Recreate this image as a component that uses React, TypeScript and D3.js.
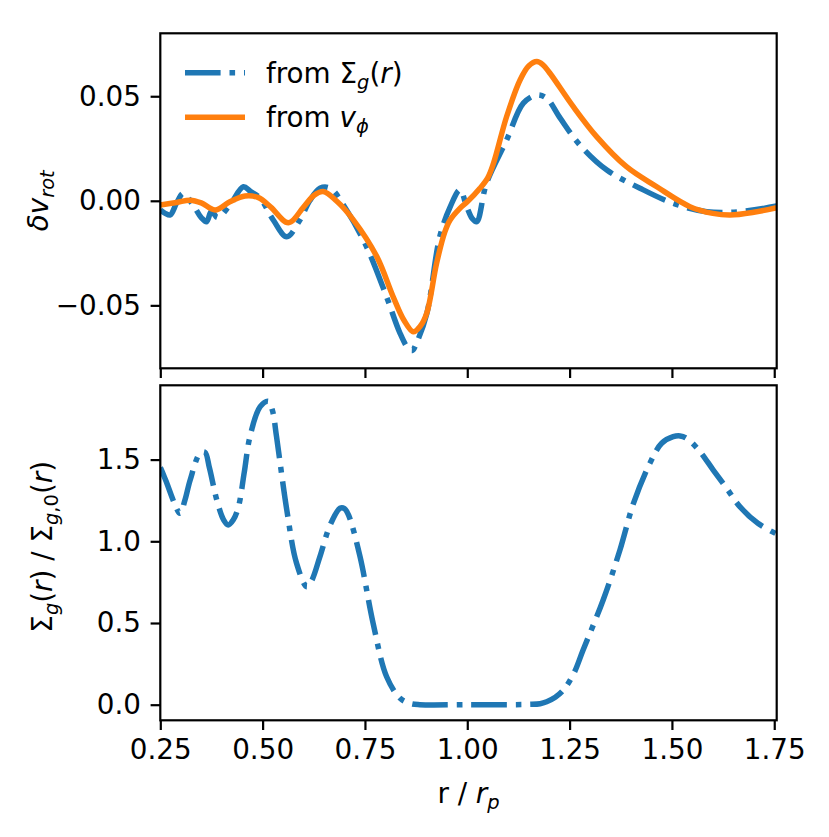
import React, { useEffect, useRef } from 'react'
import * as d3 from 'd3'

// top panel: delta v_rot, derived from surface density
const rSigma = [0.25, 0.262, 0.274, 0.29, 0.306, 0.33, 0.35, 0.363, 0.375, 0.39, 0.42, 0.453, 0.47, 0.494, 0.526, 0.559, 0.591, 0.615, 0.64, 0.665, 0.705, 0.754, 0.803, 0.835, 0.856, 0.866, 0.876, 0.901, 0.933, 0.958, 0.982, 0.999, 1.012, 1.023, 1.047, 1.096, 1.137, 1.17, 1.194, 1.227, 1.275, 1.341, 1.422, 1.503, 1.585, 1.666, 1.756]
const dvSigma = [-0.0044, -0.006, -0.0068, -0.001, 0.0036, -0.002, -0.008, -0.01, -0.005, -0.008, -0.002, 0.0067, 0.0045, 0.0012, -0.0092, -0.0172, -0.0092, 0.0, 0.006, 0.006, -0.0044, -0.022, -0.046, -0.063, -0.0706, -0.0715, -0.068, -0.054, -0.017, -0.003, 0.0052, -0.003, -0.0085, -0.01, 0.0084, 0.029, 0.0467, 0.0506, 0.049, 0.0395, 0.0267, 0.0147, 0.006, -0.0012, -0.0052, -0.0052, -0.0025]

// top panel: delta v_rot, from v_phi
const rVphi = [0.25, 0.29, 0.323, 0.35, 0.384, 0.42, 0.457, 0.49, 0.52, 0.563, 0.6, 0.625, 0.648, 0.68, 0.722, 0.779, 0.819, 0.845, 0.868, 0.885, 0.901, 0.925, 0.945, 0.958, 0.982, 1.0, 1.031, 1.05, 1.064, 1.096, 1.129, 1.15, 1.17, 1.185, 1.202, 1.259, 1.316, 1.389, 1.463, 1.544, 1.6, 1.642, 1.7, 1.756]
const dvVphi = [-0.002, -0.0008, 0.0003, -0.001, -0.0044, -0.0005, 0.0023, 0.0015, -0.003, -0.0105, -0.003, 0.0025, 0.0044, 0.0, -0.0092, -0.0267, -0.0459, -0.057, -0.0626, -0.06, -0.0537, -0.0299, -0.015, -0.0092, -0.0036, -0.0005, 0.006, 0.011, 0.0179, 0.0402, 0.0578, 0.0645, 0.0666, 0.065, 0.061, 0.045, 0.0307, 0.0163, 0.0067, -0.0028, -0.006, -0.0068, -0.0055, -0.0033]

// bottom panel: Sigma_g(r) / Sigma_g,0(r)
const rSurf = [0.25, 0.253, 0.266, 0.285, 0.298, 0.31, 0.323, 0.347, 0.359, 0.37, 0.388, 0.405, 0.416, 0.428, 0.441, 0.455, 0.469, 0.494, 0.514, 0.524, 0.534, 0.559, 0.583, 0.608, 0.62, 0.64, 0.665, 0.689, 0.7, 0.71, 0.738, 0.77, 0.803, 0.836, 0.86, 0.884, 1.0, 1.1, 1.15, 1.178, 1.194, 1.215, 1.235, 1.26, 1.283, 1.332, 1.373, 1.406, 1.446, 1.475, 1.503, 1.52, 1.536, 1.565, 1.601, 1.635, 1.666, 1.71, 1.756]
const surfRatio = [1.45, 1.436, 1.355, 1.23, 1.171, 1.25, 1.375, 1.539, 1.545, 1.45, 1.253, 1.13, 1.1, 1.13, 1.212, 1.42, 1.64, 1.824, 1.857, 1.8, 1.64, 1.192, 0.865, 0.722, 0.76, 0.906, 1.1, 1.202, 1.2, 1.16, 0.906, 0.498, 0.171, 0.039, 0.008, 0.0, 0.0, 0.0, 0.002, 0.006, 0.018, 0.045, 0.09, 0.19, 0.335, 0.641, 0.947, 1.232, 1.477, 1.6, 1.64, 1.645, 1.63, 1.56, 1.436, 1.32, 1.212, 1.11, 1.045]

const xTicks = [0.25, 0.5, 0.75, 1.0, 1.25, 1.5, 1.75]
const yTicksTop = [-0.05, 0.0, 0.05]
const yTicksBottom = [0.0, 0.5, 1.0, 1.5]

const BLUE = '#1f77b4'
const ORANGE = '#ff7f0e'
const FONT = 'DejaVu Sans'
const FS = 27.8

type Part = { t: string; it?: boolean; sub?: boolean }

// crude mathtext: italic pieces and lowered subscripts
function addMath(txt: any, parts: Part[], fs: number) {
  let down = false
  parts.forEach((p) => {
    const ts = txt.append('tspan').text(p.t)
    if (p.it) ts.attr('font-style', 'italic')
    if (p.sub) {
      ts.attr('font-size', fs * 0.7)
      if (!down) { ts.attr('dy', fs * 0.22); down = true }
    } else if (down) {
      ts.attr('dy', -fs * 0.22); down = false
    }
  })
}

const App = () => {
  const ref = useRef<SVGSVGElement>(null)
  const width = 829
  const height = 837

  useEffect(() => {
    const svg = d3.select(ref.current)
    svg.selectAll('*').remove()

    const left = 160.3
    const right = 776.7
    const topP = { y0: 33.3, y1: 368.3 }
    const botP = { y0: 385.3, y1: 720.3 }

    const x = d3.scaleLinear().domain([0.25, 1.756]).range([left, right])
    const yTop = d3.scaleLinear().domain([-0.0801, 0.0801]).range([topP.y1, topP.y0])
    const yBot = d3.scaleLinear().domain([-0.0955, 1.9547]).range([botP.y1, botP.y0])

    const defs = svg.append('defs')
    defs.append('clipPath').attr('id', 'clipTop').append('rect')
      .attr('x', left).attr('y', topP.y0).attr('width', right - left).attr('height', topP.y1 - topP.y0)
    defs.append('clipPath').attr('id', 'clipBot').append('rect')
      .attr('x', left).attr('y', botP.y0).attr('width', right - left).attr('height', botP.y1 - botP.y0)

    const lw = 5.5
    const dashdot = '35.6,8.9,5.6,8.9'

    const mkLine = (yS: any) => d3.line<[number, number]>()
      .x((d) => x(d[0]))
      .y((d) => yS(d[1]))
      .curve(d3.curveCatmullRom.alpha(0.5))

    const sigmaPts = rSigma.map((r, i) => [r, dvSigma[i]] as [number, number])
    const vphiPts = rVphi.map((r, i) => [r, dvVphi[i]] as [number, number])
    const surfPts = rSurf.map((r, i) => [r, surfRatio[i]] as [number, number])

    const gTop = svg.append('g').attr('clip-path', 'url(#clipTop)')
    gTop.append('path').attr('d', mkLine(yTop)(sigmaPts))
      .attr('fill', 'none').attr('stroke', BLUE).attr('stroke-width', lw).attr('stroke-dasharray', dashdot)
    gTop.append('path').attr('d', mkLine(yTop)(vphiPts))
      .attr('fill', 'none').attr('stroke', ORANGE).attr('stroke-width', lw).attr('stroke-linejoin', 'round')

    const gBot = svg.append('g').attr('clip-path', 'url(#clipBot)')
    gBot.append('path').attr('d', mkLine(yBot)(surfPts))
      .attr('fill', 'none').attr('stroke', BLUE).attr('stroke-width', lw).attr('stroke-dasharray', dashdot)

    // axes (ticks + labels)
    const styleAxis = (g: any) => {
      g.select('.domain').remove()
      g.selectAll('.tick line').attr('stroke', '#000').attr('stroke-width', 2.2)
      g.selectAll('.tick text').attr('font-family', FONT).attr('font-size', FS).attr('fill', '#000')
    }

    svg.append('g').attr('transform', `translate(${left},0)`)
      .call(d3.axisLeft(yTop).tickValues(yTicksTop).tickFormat(d3.format('.2f')).tickSize(9.7).tickPadding(9.7).tickSizeOuter(0))
      .call(styleAxis)
    svg.append('g').attr('transform', `translate(0,${topP.y1})`)
      .call(d3.axisBottom(x).tickValues(xTicks).tickFormat(() => '').tickSize(9.7).tickSizeOuter(0))
      .call(styleAxis)
    svg.append('g').attr('transform', `translate(${left},0)`)
      .call(d3.axisLeft(yBot).tickValues(yTicksBottom).tickFormat(d3.format('.1f')).tickSize(9.7).tickPadding(9.7).tickSizeOuter(0))
      .call(styleAxis)
    svg.append('g').attr('transform', `translate(0,${botP.y1})`)
      .call(d3.axisBottom(x).tickValues(xTicks).tickFormat(d3.format('.2f')).tickSize(9.7).tickPadding(9.7).tickSizeOuter(0))
      .call(styleAxis)

    // frames
    ;[topP, botP].forEach((p) => {
      svg.append('rect').attr('x', left).attr('y', p.y0).attr('width', right - left).attr('height', p.y1 - p.y0)
        .attr('fill', 'none').attr('stroke', '#000').attr('stroke-width', 2.2)
    })

    // legend
    const legend = [
      { color: BLUE, dash: dashdot, y: 72.7, parts: [{ t: 'from Σ' }, { t: 'g', it: true, sub: true }, { t: '(' }, { t: 'r', it: true }, { t: ')' }] },
      { color: ORANGE, dash: null, y: 117.3, parts: [{ t: 'from ' }, { t: 'v', it: true }, { t: 'ϕ', it: true, sub: true }] },
    ]
    legend.forEach((l) => {
      const ln = svg.append('line').attr('x1', 185).attr('x2', 245).attr('y1', l.y).attr('y2', l.y)
        .attr('stroke', l.color).attr('stroke-width', lw)
      if (l.dash) ln.attr('stroke-dasharray', l.dash)
      const t = svg.append('text').attr('x', 266).attr('y', l.y + 10)
        .attr('font-family', FONT).attr('font-size', FS).style('white-space', 'pre')
      addMath(t, l.parts as Part[], FS)
    })

    // axis labels
    const ly1 = svg.append('text').attr('transform', `translate(48,${(topP.y0 + topP.y1) / 2}) rotate(-90)`)
      .attr('text-anchor', 'middle').attr('font-family', FONT).attr('font-size', FS).style('white-space', 'pre')
    addMath(ly1, [{ t: 'δv', it: true }, { t: 'rot', it: true, sub: true }], FS)

    const ly2 = svg.append('text').attr('transform', `translate(52,${(botP.y0 + botP.y1) / 2 - 6}) rotate(-90)`)
      .attr('text-anchor', 'middle').attr('font-family', FONT).attr('font-size', FS).style('white-space', 'pre')
    addMath(ly2, [{ t: 'Σ' }, { t: 'g', it: true, sub: true }, { t: '(' }, { t: 'r', it: true }, { t: ') / Σ' },
      { t: 'g', it: true, sub: true }, { t: ',0', sub: true }, { t: '(' }, { t: 'r', it: true }, { t: ')' }], FS)

    const lx = svg.append('text').attr('x', (left + right) / 2).attr('y', 803)
      .attr('text-anchor', 'middle').attr('font-family', FONT).attr('font-size', FS).style('white-space', 'pre')
    addMath(lx, [{ t: 'r / ' }, { t: 'r', it: true }, { t: 'p', it: true, sub: true }], FS)
  }, [])

  return (
    <svg ref={ref} width={width} height={height}
      style={{ position: 'absolute', left: 0, top: 0, display: 'block', background: '#fff' }} />
  )
}

export default App
